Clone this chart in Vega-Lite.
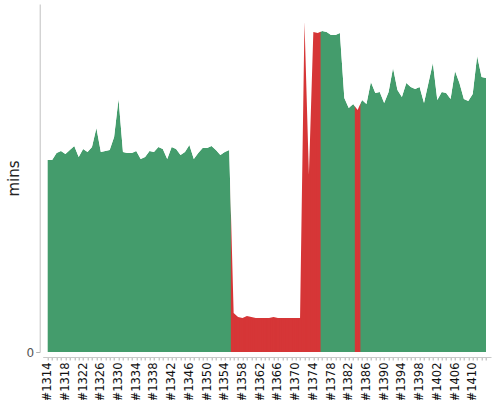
{
  "$schema": "https://vega.github.io/schema/vega-lite/v6.json",
  "autosize": "none",
  "width": 448.3,
  "height": 348,
  "padding": {"left": 42.7, "top": 4, "right": 9, "bottom": 48},
  "background": "white",
  "config": {
    "view": {"stroke": null},
    "font": "DejaVu Sans",
    "axis": {"labelFont": "DejaVu Sans", "titleFont": "DejaVu Sans"}
  },
  "data": {
    "values": [
      {"build": 1314, "mins": 19.2, "status": "SUCCESS"},
      {"build": 1315, "mins": 19.2, "status": "SUCCESS"},
      {"build": 1316, "mins": 19.9, "status": "SUCCESS"},
      {"build": 1317, "mins": 20.1, "status": "SUCCESS"},
      {"build": 1318, "mins": 19.8, "status": "SUCCESS"},
      {"build": 1319, "mins": 20.2, "status": "SUCCESS"},
      {"build": 1320, "mins": 20.6, "status": "SUCCESS"},
      {"build": 1321, "mins": 19.5, "status": "SUCCESS"},
      {"build": 1322, "mins": 20.3, "status": "SUCCESS"},
      {"build": 1323, "mins": 20.0, "status": "SUCCESS"},
      {"build": 1324, "mins": 20.5, "status": "SUCCESS"},
      {"build": 1325, "mins": 22.4, "status": "SUCCESS"},
      {"build": 1326, "mins": 20.0, "status": "SUCCESS"},
      {"build": 1327, "mins": 20.1, "status": "SUCCESS"},
      {"build": 1328, "mins": 20.2, "status": "SUCCESS"},
      {"build": 1329, "mins": 21.5, "status": "SUCCESS"},
      {"build": 1330, "mins": 25.3, "status": "SUCCESS"},
      {"build": 1331, "mins": 20.0, "status": "SUCCESS"},
      {"build": 1332, "mins": 19.9, "status": "SUCCESS"},
      {"build": 1333, "mins": 19.9, "status": "SUCCESS"},
      {"build": 1334, "mins": 20.1, "status": "SUCCESS"},
      {"build": 1335, "mins": 19.3, "status": "SUCCESS"},
      {"build": 1336, "mins": 19.5, "status": "SUCCESS"},
      {"build": 1337, "mins": 20.1, "status": "SUCCESS"},
      {"build": 1338, "mins": 20.0, "status": "SUCCESS"},
      {"build": 1339, "mins": 20.5, "status": "SUCCESS"},
      {"build": 1340, "mins": 20.3, "status": "SUCCESS"},
      {"build": 1341, "mins": 19.3, "status": "SUCCESS"},
      {"build": 1342, "mins": 20.5, "status": "SUCCESS"},
      {"build": 1343, "mins": 20.3, "status": "SUCCESS"},
      {"build": 1344, "mins": 19.7, "status": "SUCCESS"},
      {"build": 1345, "mins": 20.0, "status": "SUCCESS"},
      {"build": 1346, "mins": 20.7, "status": "SUCCESS"},
      {"build": 1347, "mins": 19.3, "status": "SUCCESS"},
      {"build": 1348, "mins": 19.9, "status": "SUCCESS"},
      {"build": 1349, "mins": 20.4, "status": "SUCCESS"},
      {"build": 1350, "mins": 20.4, "status": "SUCCESS"},
      {"build": 1351, "mins": 20.6, "status": "SUCCESS"},
      {"build": 1352, "mins": 20.2, "status": "SUCCESS"},
      {"build": 1353, "mins": 19.7, "status": "SUCCESS"},
      {"build": 1354, "mins": 20.0, "status": "SUCCESS"},
      {"build": 1355, "mins": 20.2, "status": "SUCCESS"},
      {"build": 1356, "mins": 3.9, "status": "FAILURE"},
      {"build": 1357, "mins": 3.5, "status": "FAILURE"},
      {"build": 1358, "mins": 3.4, "status": "FAILURE"},
      {"build": 1359, "mins": 3.6, "status": "FAILURE"},
      {"build": 1360, "mins": 3.5, "status": "FAILURE"},
      {"build": 1361, "mins": 3.4, "status": "FAILURE"},
      {"build": 1362, "mins": 3.4, "status": "FAILURE"},
      {"build": 1363, "mins": 3.4, "status": "FAILURE"},
      {"build": 1364, "mins": 3.4, "status": "FAILURE"},
      {"build": 1365, "mins": 3.5, "status": "FAILURE"},
      {"build": 1366, "mins": 3.4, "status": "FAILURE"},
      {"build": 1367, "mins": 3.4, "status": "FAILURE"},
      {"build": 1368, "mins": 3.4, "status": "FAILURE"},
      {"build": 1369, "mins": 3.4, "status": "FAILURE"},
      {"build": 1370, "mins": 3.4, "status": "FAILURE"},
      {"build": 1371, "mins": 3.4, "status": "FAILURE"},
      {"build": 1372, "mins": 33.0, "status": "FAILURE"},
      {"build": 1373, "mins": 17.7, "status": "FAILURE"},
      {"build": 1374, "mins": 32.0, "status": "FAILURE"},
      {"build": 1375, "mins": 31.9, "status": "FAILURE"},
      {"build": 1376, "mins": 32.1, "status": "SUCCESS"},
      {"build": 1377, "mins": 32.0, "status": "SUCCESS"},
      {"build": 1378, "mins": 31.7, "status": "SUCCESS"},
      {"build": 1379, "mins": 31.7, "status": "SUCCESS"},
      {"build": 1380, "mins": 31.9, "status": "SUCCESS"},
      {"build": 1381, "mins": 25.4, "status": "SUCCESS"},
      {"build": 1382, "mins": 24.4, "status": "SUCCESS"},
      {"build": 1383, "mins": 24.8, "status": "SUCCESS"},
      {"build": 1384, "mins": 24.2, "status": "FAILURE"},
      {"build": 1385, "mins": 25.2, "status": "SUCCESS"},
      {"build": 1386, "mins": 24.8, "status": "SUCCESS"},
      {"build": 1387, "mins": 27.0, "status": "SUCCESS"},
      {"build": 1388, "mins": 25.9, "status": "SUCCESS"},
      {"build": 1389, "mins": 26.0, "status": "SUCCESS"},
      {"build": 1390, "mins": 24.9, "status": "SUCCESS"},
      {"build": 1391, "mins": 26.0, "status": "SUCCESS"},
      {"build": 1392, "mins": 28.4, "status": "SUCCESS"},
      {"build": 1393, "mins": 26.2, "status": "SUCCESS"},
      {"build": 1394, "mins": 25.5, "status": "SUCCESS"},
      {"build": 1395, "mins": 26.9, "status": "SUCCESS"},
      {"build": 1396, "mins": 26.5, "status": "SUCCESS"},
      {"build": 1397, "mins": 26.3, "status": "SUCCESS"},
      {"build": 1398, "mins": 26.5, "status": "SUCCESS"},
      {"build": 1399, "mins": 24.9, "status": "SUCCESS"},
      {"build": 1400, "mins": 26.9, "status": "SUCCESS"},
      {"build": 1401, "mins": 28.9, "status": "SUCCESS"},
      {"build": 1402, "mins": 25.2, "status": "SUCCESS"},
      {"build": 1403, "mins": 26.0, "status": "SUCCESS"},
      {"build": 1404, "mins": 25.9, "status": "SUCCESS"},
      {"build": 1405, "mins": 25.3, "status": "SUCCESS"},
      {"build": 1406, "mins": 28.1, "status": "SUCCESS"},
      {"build": 1407, "mins": 26.9, "status": "SUCCESS"},
      {"build": 1408, "mins": 25.3, "status": "SUCCESS"},
      {"build": 1409, "mins": 25.1, "status": "SUCCESS"},
      {"build": 1410, "mins": 25.8, "status": "SUCCESS"},
      {"build": 1411, "mins": 29.6, "status": "SUCCESS"},
      {"build": 1412, "mins": 27.5, "status": "SUCCESS"},
      {"build": 1413, "mins": 27.4, "status": "SUCCESS"}
    ]
  },
  "encoding": {
    "x": {
      "field": "build",
      "type": "quantitative",
      "scale": {"domain": [1314, 1413], "nice": false, "zero": false},
      "axis": {
        "title": null,
        "values": [1314,1315,1316,1317,1318,1319,1320,1321,1322,1323,1324,1325,1326,1327,1328,1329,1330,1331,1332,1333,1334,1335,1336,1337,1338,1339,1340,1341,1342,1343,1344,1345,1346,1347,1348,1349,1350,1351,1352,1353,1354,1355,1356,1357,1358,1359,1360,1361,1362,1363,1364,1365,1366,1367,1368,1369,1370,1371,1372,1373,1374,1375,1376,1377,1378,1379,1380,1381,1382,1383,1384,1385,1386,1387,1388,1389,1390,1391,1392,1393,1394,1395,1396,1397,1398,1399,1400,1401,1402,1403,1404,1405,1406,1407,1408,1409,1410,1411,1412,1413],
        "labelExpr": "(datum.value - 1314) % 4 == 0 ? '#' + datum.value : ''",
        "labelAngle": -90,
        "labelAlign": "right",
        "labelBaseline": "middle",
        "labelOverlap": false,
        "labelFont": "DejaVu Sans",
        "labelFontSize": 11.5,
        "labelColor": "#111111",
        "labelPadding": 2,
        "offset": 5,
        "domainColor": "#c8c8c8",
        "tickColor": "#b0b0b0",
        "tickSize": 3,
        "grid": false,
        "zindex": 1
      }
    }
  },
  "layer": [
    {
      "mark": {"type": "area", "color": "#449c6c", "interpolate": "linear"},
      "encoding": {
        "y": {
          "field": "mins",
          "type": "quantitative",
          "scale": {"domain": [0, 34.8], "nice": false},
          "axis": {
            "title": "mins",
            "values": [0],
            "grid": false,
            "offset": 3,
            "domainColor": "#c0c0c0",
            "tickColor": "#b0b0b0",
            "tickSize": 4,
            "labelFont": "DejaVu Sans",
            "labelFontSize": 12,
            "labelColor": "#555555",
            "titleFont": "DejaVu Sans",
            "titleFontSize": 15,
            "titleFontWeight": "normal",
            "titleColor": "#222222",
            "titleAngle": -90,
            "titleBaseline": "middle",
            "titleAlign": "center",
            "titleX": -26.7,
            "titleY": 174,
            "zindex": 1
          }
        }
      }
    },
    {
      "transform": [{"filter": "datum.status == 'FAILURE'"}],
      "mark": {"type": "bar", "color": "#d63637", "stroke": "#d63637", "strokeWidth": 1.6, "width": 4.0, "clip": true},
      "encoding": {
        "y": {"datum": 0, "type": "quantitative"},
        "y2": {"datum": 34.8}
      }
    },
    {
      "mark": {"type": "area", "color": "white", "interpolate": "linear"},
      "encoding": {
        "y": {"field": "mins", "type": "quantitative"},
        "y2": {"datum": 34.8}
      }
    }
  ]
}
